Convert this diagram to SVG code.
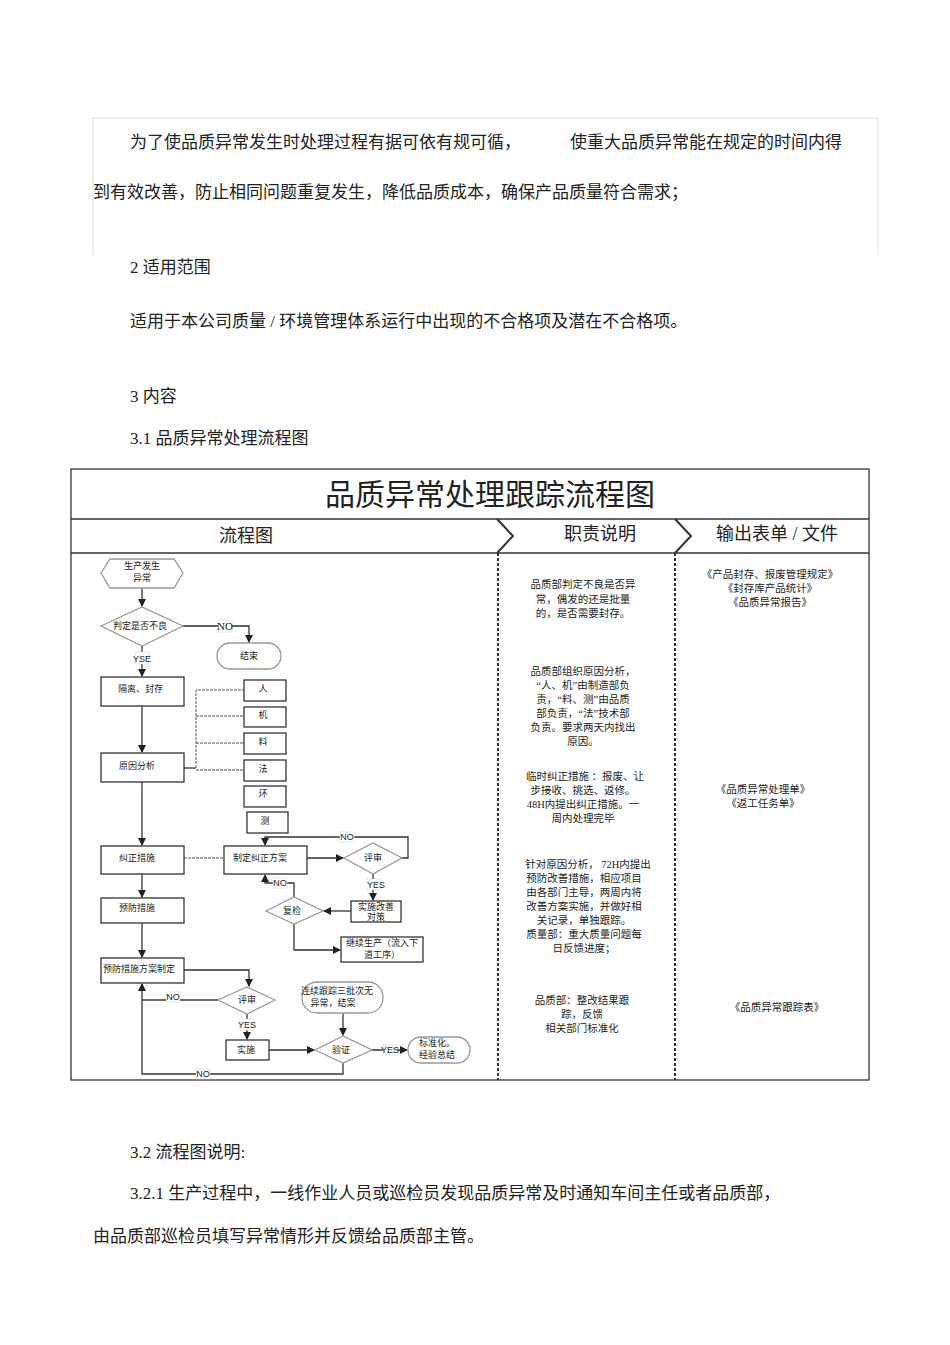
<svg xmlns="http://www.w3.org/2000/svg" width="950" height="1345" viewBox="0 0 950 1345">
<defs>
<marker id="ar" markerWidth="8" markerHeight="8" refX="7" refY="4" orient="auto" markerUnits="userSpaceOnUse"><path d="M0,0 L8,4 L0,8 z" fill="#222"/></marker>
<style>
text{font-family:"Liberation Serif","Noto Sans CJK SC",serif;fill:#222}
.b{font-size:17px}
.n{font-size:9px;text-anchor:middle}
.s{font-size:9px;text-anchor:start}
.c{font-size:10.5px;text-anchor:middle}
.l{font-size:9px;font-family:"Liberation Sans","Noto Sans CJK SC",sans-serif;text-anchor:middle}
.bx{fill:#fff;stroke:#333;stroke-width:1.3}
.gx{fill:#fff;stroke:#999;stroke-width:1.3}
.ln{fill:none;stroke:#333;stroke-width:1.3}
.dl{fill:none;stroke:#555;stroke-width:1;stroke-dasharray:3,1}
.lb{fill:#fff;stroke:#ccc;stroke-width:0.5}
</style>
</defs>
<rect width="950" height="1345" fill="#fff"/>
<path d="M93,255 V118 H878 V255" fill="none" stroke="#ddd"/>
<text class="b" x="130" y="148">为了使品质异常发生时处理过程有据可依有规可循，</text>
<text class="b" x="570" y="148">使重大品质异常能在规定的时间内得</text>
<text class="b" x="93" y="198">到有效改善，防止相同问题重复发生，降低品质成本，确保产品质量符合需求；</text>
<text class="b" x="130" y="273">2 适用范围</text>
<text class="b" x="130" y="327">适用于本公司质量 / 环境管理体系运行中出现的不合格项及潜在不合格项。</text>
<text class="b" x="130" y="402">3 内容</text>
<text class="b" x="130" y="444">3.1  品质异常处理流程图</text>

<g id="table">
<rect x="71" y="469" width="798" height="611" fill="none" stroke="#333" stroke-width="1.3"/>
<line x1="71" y1="519" x2="869" y2="519" stroke="#333" stroke-width="1.3"/>
<line x1="71" y1="553" x2="869" y2="553" stroke="#333" stroke-width="1.3"/>
<path d="M497,519 L513,536 L497,553" fill="none" stroke="#333" stroke-width="2"/>
<path d="M675,519 L691,536 L675,553" fill="none" stroke="#333" stroke-width="2"/>
<line x1="498" y1="553" x2="498" y2="1080" stroke="#333" stroke-width="2" stroke-dasharray="3,2"/>
<line x1="675" y1="553" x2="675" y2="1080" stroke="#333" stroke-width="2" stroke-dasharray="3,2"/>
<text x="490" y="505" font-size="30" text-anchor="middle">品质异常处理跟踪流程图</text>
<text x="246" y="542" font-size="18" text-anchor="middle">流程图</text>
<text x="600" y="540" font-size="18" text-anchor="middle">职责说明</text>
<text x="777" y="540" font-size="18" text-anchor="middle">输出表单 / 文件</text>
</g>

<g id="connectors">
<line class="ln" x1="142" y1="588" x2="142" y2="606" marker-end="url(#ar)"/>
<path class="ln" d="M183,626 H249 V642" marker-end="url(#ar)"/>
<line class="ln" x1="142" y1="646" x2="142" y2="676" marker-end="url(#ar)"/>
<line class="ln" x1="142" y1="706" x2="142" y2="752" marker-end="url(#ar)"/>
<path class="ln" d="M184,768 H196"/>
<path class="dl" d="M196,768 V690 H244 M196,716 H244 M196,743 H244 M196,770 H244"/>
<line class="ln" x1="142" y1="782" x2="142" y2="845" marker-end="url(#ar)"/>
<line class="dl" x1="184" y1="858" x2="224" y2="858"/>
<line class="ln" x1="307" y1="858" x2="343" y2="858" marker-end="url(#ar)"/>
<path class="ln" d="M402,858 H408 V837 H265 V845" marker-end="url(#ar)"/>
<line class="ln" x1="373" y1="874" x2="373" y2="900" marker-end="url(#ar)"/>
<line class="ln" x1="351" y1="911" x2="324" y2="911" marker-end="url(#ar)"/>
<path class="ln" d="M294,897 V883 H265 V875" marker-end="url(#ar)"/>
<path class="ln" d="M294,924 V950 H340" marker-end="url(#ar)"/>
<line class="ln" x1="142" y1="874" x2="142" y2="897" marker-end="url(#ar)"/>
<line class="ln" x1="142" y1="923" x2="142" y2="957" marker-end="url(#ar)"/>
<path class="ln" d="M184,970 H249 V986" marker-end="url(#ar)"/>
<path class="ln" d="M218,1000 H142"/>
<path class="ln" d="M343,1063 V1074 H142 V984" marker-end="url(#ar)"/>
<line class="ln" x1="247" y1="1014" x2="247" y2="1039" marker-end="url(#ar)"/>
<line class="ln" x1="269" y1="1050" x2="314" y2="1050" marker-end="url(#ar)"/>
<line class="ln" x1="343" y1="1013" x2="343" y2="1035" marker-end="url(#ar)"/>
<line class="ln" x1="372" y1="1050" x2="407" y2="1050" marker-end="url(#ar)"/>
<rect class="lb" x="218" y="620" width="14" height="12"/><text x="225" y="630" font-size="11" font-family="Liberation Sans" text-anchor="middle">NO</text>
<rect class="lb" x="135" y="652" width="14" height="12"/><text class="l" x="142" y="662">YSE</text>
<rect class="lb" x="340" y="832" width="14" height="10"/><text class="l" x="347" y="840">NO</text>
<rect class="lb" x="367" y="879" width="14" height="11"/><text class="l" x="376" y="888">YES</text>
<rect class="lb" x="273" y="878" width="14" height="10"/><text class="l" x="280" y="886">NO</text>
<rect class="lb" x="166" y="992" width="14" height="10"/><text class="l" x="173" y="1000">NO</text>
<rect class="lb" x="240" y="1019" width="14" height="11"/><text class="l" x="247" y="1028">YES</text>
<rect class="lb" x="383" y="1045" width="14" height="10"/><text class="l" x="390" y="1053">YES</text>
<rect class="lb" x="196" y="1069" width="14" height="10"/><text class="l" x="203" y="1077">NO</text>
</g>

<g id="start"><polygon class="gx" points="101,573 110,559 174,559 183,573 174,588 110,588"/><text class="n" x="142" y="569">生产发生</text><text class="n" x="142" y="581">异常</text></g>
<g id="judge"><polygon class="gx" points="101,626 142,607 183,626 142,646"/><text class="n" x="140" y="629">判定是否不良</text></g>
<g id="end"><rect class="gx" x="217" y="643" width="64" height="26" rx="13"/><text class="n" x="249" y="659">结束</text></g>
<g id="isolate"><rect class="bx" x="101" y="677" width="83" height="29"/><text class="s" x="118" y="692">隔离、封存</text></g>
<g id="cause"><rect class="bx" x="101" y="753" width="83" height="29"/><text class="n" x="137" y="769">原因分析</text></g>
<g id="ren"><rect class="bx" x="244" y="680" width="42" height="21"/><text class="n" x="263" y="692">人</text></g>
<g id="ji"><rect class="bx" x="244" y="707" width="42" height="20"/><text class="n" x="263" y="718">机</text></g>
<g id="liao"><rect class="bx" x="244" y="733" width="42" height="21"/><text class="n" x="263" y="745">料</text></g>
<g id="fa"><rect class="bx" x="244" y="760" width="42" height="21"/><text class="n" x="263" y="772">法</text></g>
<g id="huan"><rect class="bx" x="244" y="786" width="42" height="21"/><text class="n" x="263" y="797">环</text></g>
<g id="ce"><rect class="bx" x="247" y="812" width="41" height="21"/><text class="n" x="265" y="824">测</text></g>
<g id="correct"><rect class="bx" x="101" y="846" width="83" height="28"/><text class="n" x="137" y="861">纠正措施</text></g>
<g id="plan"><rect class="bx" x="224" y="846" width="83" height="28"/><text class="n" x="260" y="861">制定纠正方案</text></g>
<g id="review1"><polygon class="gx" points="344,858 373,843 402,858 373,874"/><text class="n" x="373" y="861">评审</text></g>
<g id="implement1"><rect class="bx" x="351" y="901" width="50" height="21"/><text class="n" x="376" y="910">实施改善</text><text class="n" x="376" y="920">对策</text></g>
<g id="recheck"><polygon class="gx" points="266,911 294,897 323,911 294,924"/><text class="n" x="292" y="914">复检</text></g>
<g id="continue"><rect class="bx" x="341" y="937" width="82" height="25"/><text class="n" x="382" y="946">继续生产（流入下</text><text class="n" x="382" y="958">道工序）</text></g>
<g id="prevent"><rect class="bx" x="101" y="898" width="83" height="25"/><text class="n" x="137" y="911">预防措施</text></g>
<g id="prevplan"><rect class="bx" x="101" y="958" width="83" height="25"/><text class="s" x="103" y="972">预防措施方案制定</text></g>
<g id="review2"><polygon class="gx" points="218,1000 247,987 275,1000 247,1014"/><text class="n" x="247" y="1003">评审</text></g>
<g id="implement2"><rect class="bx" x="226" y="1040" width="43" height="20"/><text class="n" x="246" y="1053">实施</text></g>
<g id="verify"><polygon class="gx" points="315,1050 343,1036 372,1050 343,1063"/><text class="n" x="341" y="1053">验证</text></g>
<g id="track"><rect class="gx" x="302" y="982" width="81" height="31" rx="15"/><text class="n" x="337" y="994">连续跟踪三批次无</text><text class="n" x="333" y="1006">异常，结案</text></g>
<g id="standard"><rect class="gx" x="408" y="1037" width="62" height="26" rx="13"/><text class="s" x="419" y="1046">标准化。</text><text class="s" x="419" y="1058">经验总结</text></g>

<g id="duty">
<text class="c" x="583" y="588">品质部判定不良是否异</text>
<text class="c" x="583" y="603">常，偶发的还是批量</text>
<text class="c" x="583" y="617">的，是否需要封存。</text>
<text class="c" x="583" y="675">品质部组织原因分析，</text>
<text class="c" x="583" y="689">“人、机”由制造部负</text>
<text class="c" x="583" y="703">责，“料、测”由品质</text>
<text class="c" x="583" y="717">部负责，“法”技术部</text>
<text class="c" x="583" y="731">负责。要求两天内找出</text>
<text class="c" x="583" y="745">原因。</text>
<text class="c" x="585" y="780">临时纠正措施 ：报废、让</text>
<text class="c" x="583" y="794">步接收、挑选、返修。</text>
<text class="c" x="583" y="808">48H内提出纠正措施。一</text>
<text class="c" x="583" y="822">周内处理完毕</text>
<text class="c" x="588" y="868">针对原因分析，  72H内提出</text>
<text class="c" x="584" y="882">预防改善措施，相应项目</text>
<text class="c" x="584" y="896">由各部门主导，两周内将</text>
<text class="c" x="584" y="910">改善方案实施，并做好相</text>
<text class="c" x="584" y="924">关记录，单独跟踪。</text>
<text class="c" x="584" y="938">质量部：重大质量问题每</text>
<text class="c" x="584" y="952">日反馈进度；</text>
<text class="c" x="582" y="1004">品质部：整改结果跟</text>
<text class="c" x="582" y="1018">踪，反馈</text>
<text class="c" x="582" y="1032">相关部门标准化</text>
</g>
<g id="docs">
<text class="c" x="770" y="578">《产品封存、报废管理规定》</text>
<text class="c" x="770" y="592">《封存库产品统计》</text>
<text class="c" x="770" y="606">《品质异常报告》</text>
<text class="c" x="763" y="793">《品质异常处理单》</text>
<text class="c" x="763" y="807">《返工任务单》</text>
<text class="c" x="777" y="1011">《品质异常跟踪表》</text>
</g>

<text class="b" x="130" y="1158">3.2  流程图说明:</text>
<text class="b" x="130" y="1199">3.2.1  生产过程中，一线作业人员或巡检员发现品质异常及时通知车间主任或者品质部，</text>
<text class="b" x="93" y="1242">由品质部巡检员填写异常情形并反馈给品质部主管。</text>
</svg>
